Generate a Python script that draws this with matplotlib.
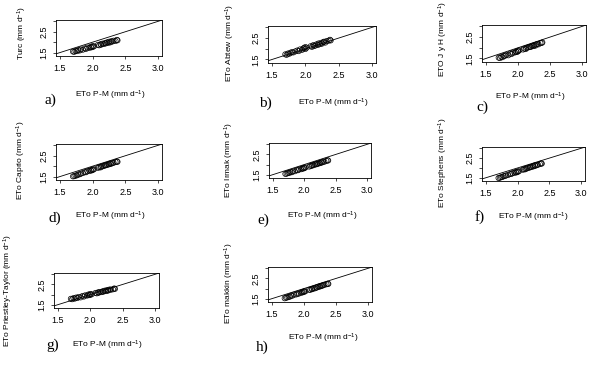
import matplotlib
matplotlib.use('Agg')
import matplotlib.pyplot as plt

plt.rcParams['font.family'] = ['Liberation Sans', 'DejaVu Sans']
plt.rcParams['mathtext.fontset'] = 'custom'
plt.rcParams['mathtext.rm'] = 'Liberation Sans'
plt.rcParams['mathtext.it'] = 'Liberation Sans:italic'

# ETo Penman-Monteith (x axis, shared by all panels)
eto_pm = [1.70, 1.72, 1.74, 1.76, 1.78, 1.80, 1.82, 1.85, 1.88, 1.90, 1.92, 1.95, 1.97, 1.98, 2.00, 2.00, 2.02, 2.08,
          2.10, 2.12, 2.13, 2.15, 2.17, 2.19, 2.20, 2.22, 2.24, 2.25, 2.27, 2.28, 2.30, 2.32, 2.35, 2.37, 2.38]

# ETo from the other methods
turc = [1.55, 1.54, 1.58, 1.57, 1.62, 1.60, 1.65, 1.64, 1.70, 1.68, 1.74, 1.73, 1.78, 1.75, 1.81, 1.77, 1.80, 1.87,
        1.85, 1.90, 1.88, 1.93, 1.91, 1.96, 1.94, 1.99, 1.97, 2.02, 1.99, 2.04, 2.03, 2.07, 2.06, 2.11, 2.09]
abtew = [1.74, 1.72, 1.78, 1.77, 1.82, 1.84, 1.83, 1.88, 1.92, 1.89, 1.97, 1.95, 2.01, 2.04, 1.99, 2.08, 2.05, 2.12,
         2.09, 2.17, 2.13, 2.15, 2.21, 2.18, 2.25, 2.22, 2.28, 2.24, 2.31, 2.33, 2.29, 2.36, 2.38, 2.42, 2.39]
jensen_haise = [1.54, 1.52, 1.58, 1.56, 1.62, 1.63, 1.67, 1.65, 1.73, 1.71, 1.77, 1.78, 1.82, 1.80, 1.86, 1.83, 1.88,
                1.92, 1.96, 1.94, 1.99, 2.01, 2.03, 2.05, 2.04, 2.09, 2.08, 2.12, 2.10, 2.15, 2.17, 2.16, 2.22, 2.23,
                2.25]
caprio = [1.51, 1.52, 1.55, 1.56, 1.60, 1.61, 1.64, 1.67, 1.71, 1.71, 1.76, 1.77, 1.81, 1.79, 1.84, 1.82, 1.85, 1.92,
          1.95, 1.94, 1.98, 1.99, 2.02, 2.03, 2.05, 2.06, 2.09, 2.09, 2.13, 2.11, 2.15, 2.16, 2.20, 2.22, 2.21]
irmak = [1.54, 1.55, 1.58, 1.59, 1.62, 1.62, 1.66, 1.67, 1.72, 1.72, 1.76, 1.77, 1.81, 1.80, 1.84, 1.82, 1.86, 1.90,
         1.94, 1.94, 1.97, 1.97, 2.01, 2.01, 2.04, 2.04, 2.08, 2.07, 2.11, 2.10, 2.14, 2.14, 2.18, 2.21, 2.20]
stephens = [1.49, 1.50, 1.53, 1.54, 1.58, 1.59, 1.62, 1.64, 1.69, 1.69, 1.74, 1.75, 1.80, 1.77, 1.82, 1.80, 1.83, 1.91,
            1.93, 1.93, 1.97, 1.98, 2.01, 2.02, 2.05, 2.05, 2.09, 2.08, 2.13, 2.11, 2.15, 2.16, 2.20, 2.23, 2.22]
priestley = [1.79, 1.77, 1.82, 1.80, 1.85, 1.83, 1.88, 1.86, 1.93, 1.90, 1.96, 1.95, 2.00, 1.97, 2.03, 1.99, 2.01, 2.08,
             2.06, 2.11, 2.09, 2.13, 2.12, 2.16, 2.14, 2.19, 2.17, 2.21, 2.19, 2.23, 2.25, 2.24, 2.26, 2.30, 2.28]
makkink = [1.52, 1.55, 1.56, 1.59, 1.60, 1.65, 1.65, 1.70, 1.71, 1.75, 1.75, 1.80, 1.80, 1.83, 1.84, 1.86, 1.86, 1.94,
           1.94, 1.98, 1.97, 2.01, 2.01, 2.05, 2.05, 2.09, 2.09, 2.12, 2.12, 2.15, 2.16, 2.19, 2.21, 2.24, 2.23]

series = [turc, abtew, jensen_haise, caprio, irmak, stephens, priestley, makkink]
y_labels = ['Turc (mm d$^{-1}$)', 'ETo Abtew (mm d$^{-1}$)', 'ETO J y H (mm d$^{-1}$)', 'ETo Caprio (mm d$^{-1}$)',
            'ETo Irmak (mm d$^{-1}$)', 'ETo Stephens (mm d$^{-1}$)', 'ETo Priestley-Taylor (mm d$^{-1}$)',
            'ETo makkin (mm d$^{-1}$)']
panel_tags = ['a)', 'b)', 'c)', 'd)', 'e)', 'f)', 'g)', 'h)']
x_label = 'ETo P-M (mm d$^{-1}$)'
ticks = [1.5, 2.0, 2.5, 3.0]
x_ticklabels = ['1.5', '2.0', '2.5', '3.0']
y_ticklabels = ['1.5', '', '2.5', '']

# layout in pixels: plot box (left, top, right, bottom), label centres
W, H = 600, 366
boxes = [(56, 20, 162, 56), (268, 26, 376, 63), (482, 25, 586, 62),
         (56, 144, 162, 180), (269, 143, 371, 178), (482, 147, 585, 181),
         (54, 273, 159, 308), (268, 267, 372, 302)]
ylab_pos = [(22, 33), (230, 43), (443, 39), (21, 160), (229, 160), (443, 163), (8, 290), (229, 283)]
xlab_pos = [(110, 95), (333, 103), (530, 97), (110, 216), (322, 216), (533, 217), (107, 345), (323, 338)]
tag_pos = [(50, 100), (265, 103), (482, 107), (55, 218), (263, 220), (480, 217), (53, 345), (262, 347)]

fig = plt.figure(figsize=(6, 3.66), dpi=100)

for i, y in enumerate(series):
    l, t, r, b = boxes[i]
    ax = fig.add_axes([l / W, 1 - b / H, (r - l) / W, (b - t) / H])
    ax.scatter(eto_pm, y, s=14, facecolors='none', edgecolors='black', linewidths=0.5, zorder=3)
    ax.axline((0, 0), slope=1, color='black', linewidth=0.6)
    ax.set_xlim(1.44, 3.06)
    ax.set_ylim(1.336, 3.064)
    ax.set_xticks(ticks)
    ax.set_xticklabels(x_ticklabels)
    ax.set_yticks(ticks)
    ax.set_yticklabels(y_ticklabels, rotation=90, va='center')
    ax.tick_params(length=2.5, width=0.5, labelsize=6.5, pad=3)
    for sp in ax.spines.values():
        sp.set_linewidth(0.6)

    fig.text(ylab_pos[i][0] / W, 1 - ylab_pos[i][1] / H, y_labels[i], rotation=90,
             ha='center', va='center', fontsize=6)
    fig.text(xlab_pos[i][0] / W, 1 - xlab_pos[i][1] / H, x_label, ha='center', va='center', fontsize=6)
    fig.text(tag_pos[i][0] / W, 1 - tag_pos[i][1] / H, panel_tags[i], ha='center', va='center',
             fontsize=11, family='Liberation Serif')

fig.savefig('out.png', dpi=100)
